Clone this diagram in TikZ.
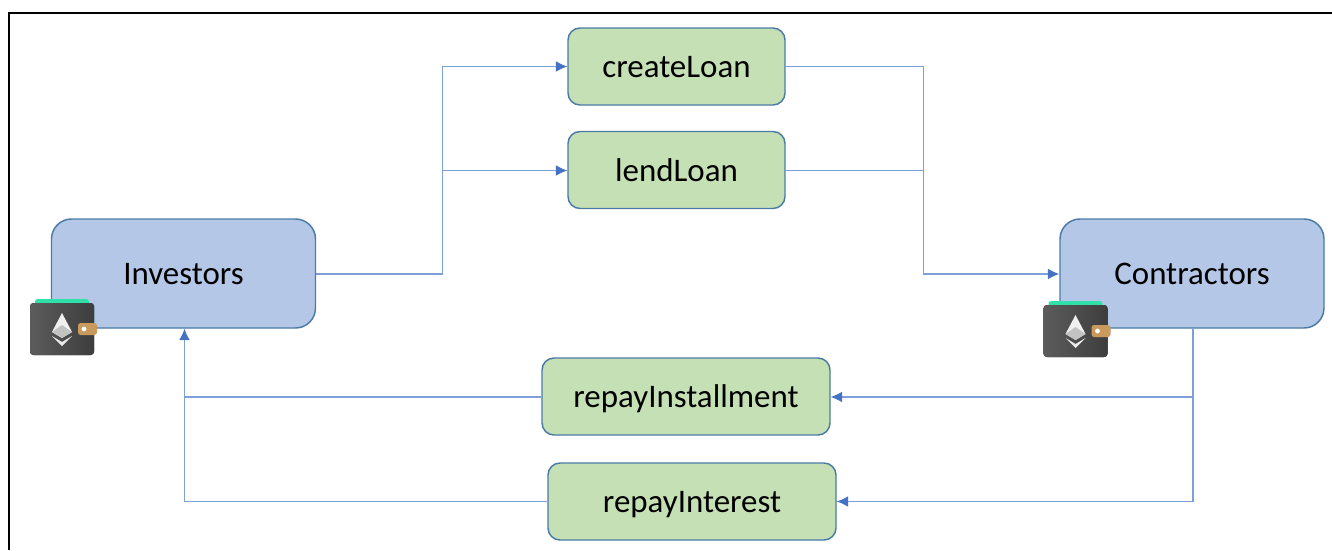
\documentclass[tikz,border=0pt]{standalone}
\usepackage{fontspec}
\setmainfont{Carlito}
\usetikzlibrary{arrows.meta}
\definecolor{boxline}{HTML}{4A7BA6}
\definecolor{bluefill}{HTML}{B4C7E7}
\definecolor{greenfill}{HTML}{C5E0B4}
\definecolor{linkblue}{HTML}{4472C4}
\definecolor{linklight}{HTML}{7F9FD8}
\definecolor{walletteal}{HTML}{2FE0A8}
\definecolor{claspgold}{HTML}{C99A5B}
\tikzset{
  x=0.75pt,y=-0.75pt,
  labeltext/.style={text=black,font=\fontsize{24.7}{30}\selectfont,text height=17.6pt,text depth=1pt},
  actor/.style={draw=boxline,fill=bluefill,line width=1.1pt,rounded corners=15pt,minimum width=198pt,minimum height=81.75pt,inner sep=0pt,labeltext},
  fn/.style={draw=boxline,fill=greenfill,line width=1.1pt,rounded corners=9pt,minimum height=57.75pt,inner sep=0pt,labeltext},
  link/.style={draw=linklight,line width=0.8pt},
  arrowlink/.style={link,-{Latex[length=8.5pt,width=8pt,color=linkblue]}},
  wallet/.pic={
    \fill[walletteal,rounded corners=2pt] (5,-4) rectangle (59,6);
    \fill[left color=black!64,right color=black!76,rounded corners=2.5pt] (0,0) rectangle (64,52);
    \fill[claspgold,rounded corners=2pt] (48,20) rectangle (67,32);
    \fill[white] (54,26) circle (2.4);
    \fill[white!94!black] (32,10) -- (22,29) -- (32,35) -- (42,29) -- cycle;
    \fill[white!76!black] (32,22) -- (22,29) -- (32,35) -- (42,29) -- cycle;
    \fill[white!92!black] (22,33) -- (32,39) -- (42,33) -- (32,43) -- cycle;
  }
}
\begin{document}
\begin{tikzpicture}
\useasboundingbox (0,0) rectangle (1332,550);
\fill[white] (0,0) rectangle (1332,550);
\draw[black,line width=1.9pt] (9,550) -- (9,13) -- (1332,13);

\node[actor] (inv) at (183.5,273.5) {Investors};
\node[actor] (con) at (1192,273.5) {Contractors};
\node[fn,minimum width=162.75pt] (create) at (676.5,66.5) {createLoan};
\node[fn,minimum width=162.75pt] (lend) at (676.5,170) {lendLoan};
\node[fn,minimum width=216pt] (inst) at (686,396.5) {repayInstallment};
\node[fn,minimum width=216pt] (intr) at (692,501.5) {repayInterest};

\coordinate (splitL) at (442.5,274);
\coordinate (topL) at (442.5,66.5);
\coordinate (midL) at (442.5,170.5);
\coordinate (topR) at (923.5,66.5);
\coordinate (midR) at (923.5,170.5);
\coordinate (joinR) at (923.5,274);
\coordinate (downR) at (1193,397);
\coordinate (lowR) at (1193,501.5);
\coordinate (upL) at (184.5,397);
\coordinate (lowL) at (184.5,501.5);

\draw[arrowlink] (inv.east |- splitL) -- (splitL) -- (topL) -- (create.west);
\draw[arrowlink] (midL) -- (lend.west |- midL);
\draw[arrowlink] (create.east) -- (topR) -- (joinR) -- (con.west |- joinR);
\draw[link] (lend.east |- midR) -- (midR);
\draw[arrowlink] (con.south -| downR) -- (downR) -- (inst.east |- downR);
\draw[arrowlink] (downR) -- (lowR) -- (intr.east);
\draw[arrowlink] (intr.west) -- (lowL) -- (upL) -- (inv.south -| upL);
\draw[link] (inst.west |- upL) -- (upL);

\pic at (30,303) {wallet};
\pic at (1043.5,305) {wallet};
\end{tikzpicture}
\end{document}
